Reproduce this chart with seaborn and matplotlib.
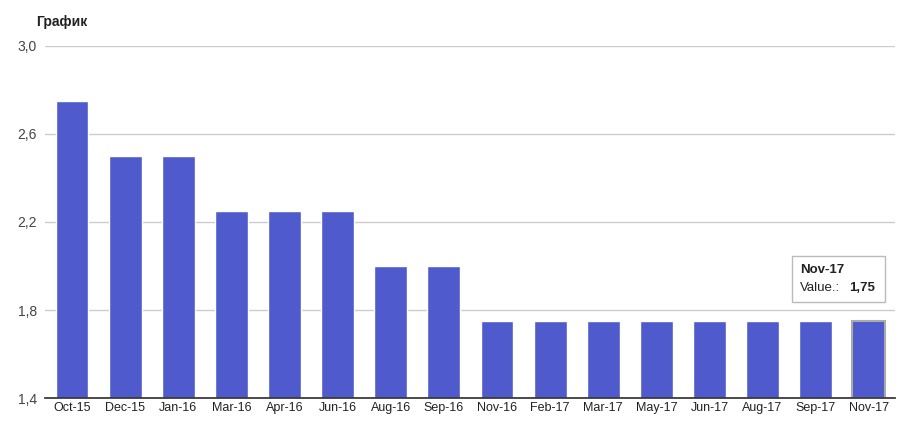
import matplotlib
matplotlib.use("Agg")
import matplotlib.pyplot as plt
import seaborn as sns
import pandas as pd
from matplotlib.patches import Rectangle

categories = ["Oct-15","Dec-15","Jan-16","Mar-16","Apr-16","Jun-16","Aug-16","Sep-16",
              "Nov-16","Feb-17","Mar-17","May-17","Jun-17","Aug-17","Sep-17","Nov-17"]
values = [2.75,2.5,2.5,2.25,2.25,2.25,2.0,2.0,1.75,1.75,1.75,1.75,1.75,1.75,1.75,1.75]
yticks = [1.4,1.8,2.2,2.6,3.0]

sns.set_theme(style="white")
plt.rcParams['font.family'] = ['Arial', 'Liberation Sans', 'DejaVu Sans']
df = pd.DataFrame({"cat": categories, "val": values})
base = 1.4

fig = plt.figure(figsize=(9.09, 4.26), dpi=100)
ax = fig.add_axes([0.05, 0.065, 0.935, 0.828])
sns.barplot(data=df, x="cat", y=[v - base for v in values], color="#4f5bcc",
            saturation=1, width=0.62, ax=ax, bottom=base)
ax.set_ylim(base, 3.0)
ax.set_xlim(-0.5, len(categories) - 0.5)
ax.set_yticks(yticks)
ax.set_yticklabels([f"{t:.1f}".replace(".", ",") for t in yticks], fontsize=10, color="#444444")
ax.tick_params(axis="x", labelsize=9, colors="#222222", length=0, pad=3)
ax.tick_params(axis="y", length=0, pad=6)
ax.yaxis.grid(True, color="#cccccc", linewidth=1)
ax.set_axisbelow(True)
for s in ax.spines.values():
    s.set_visible(False)
ax.spines["bottom"].set_visible(True)
ax.spines["bottom"].set_color("#333333")
ax.set_xlabel(""); ax.set_ylabel("")
fig.text(0.04, 0.94, "График", fontsize=10, fontweight="bold", color="#222222")

last = len(categories) - 1
ax.patches[last].set_edgecolor("#aaaaaa")
ax.patches[last].set_linewidth(1.5)
ax.add_patch(Rectangle((13.56, 1.836), 1.74, 0.209, facecolor="white", edgecolor="#bbbbbb",
                       linewidth=1, zorder=2.5, clip_on=False))
ax.text(13.71, 1.97, "Nov-17", fontsize=9.5, fontweight="bold", color="#222222", zorder=3)
ax.text(13.71, 1.885, "Value.:", fontsize=9.5, color="#222222", zorder=3)
ax.text(14.63, 1.885, f"{values[last]:.2f}".replace(".", ","), fontsize=9.5,
        fontweight="bold", color="#222222", zorder=3)
fig.savefig("out.png", dpi=100)
